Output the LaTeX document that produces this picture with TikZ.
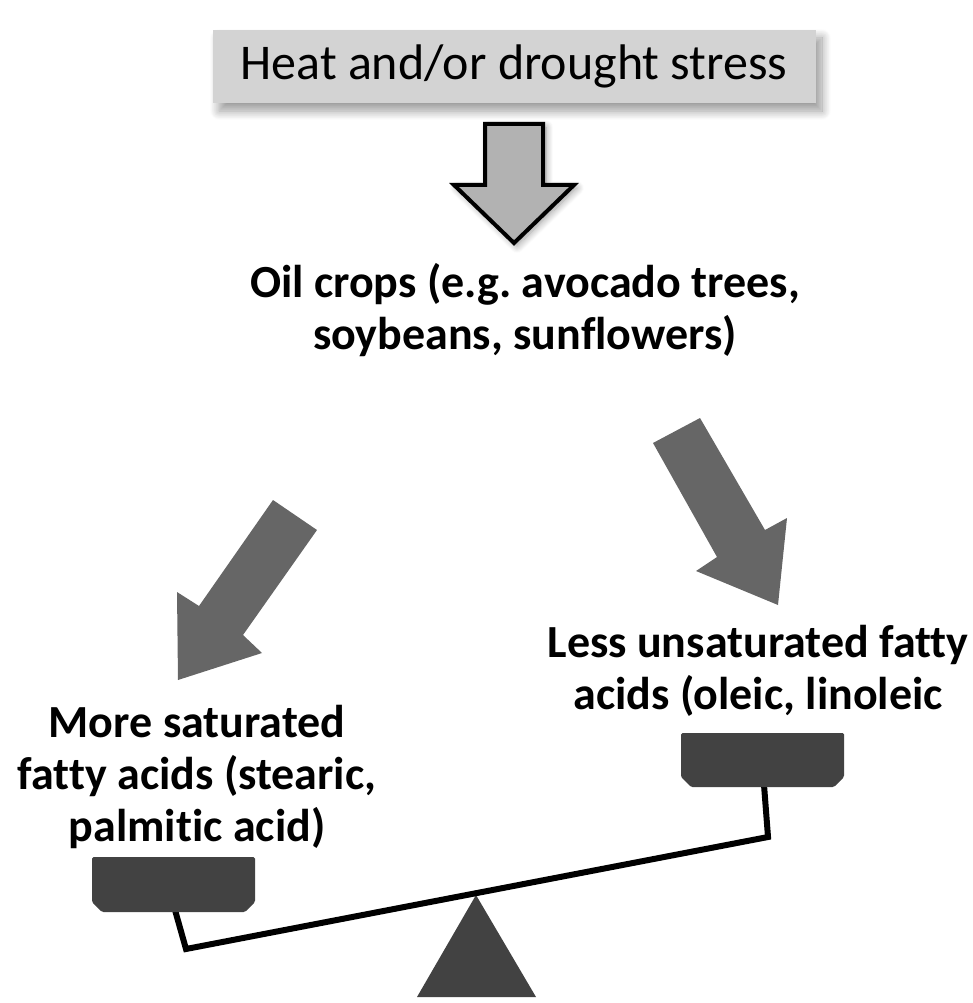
\documentclass[tikz,border=0pt]{standalone}
\usepackage{fontspec}
\setmainfont{Carlito}[Ligatures=NoCommon]
\usetikzlibrary{shadows.blur}
\definecolor{boxgray}{HTML}{D3D3D3}
\definecolor{arrowgray}{HTML}{B2B2B2}
\definecolor{darkarrow}{HTML}{666666}
\definecolor{scalegray}{HTML}{424242}
\tikzset{
  boldtext/.style={align=center, inner sep=0pt, font=\fontsize{46}{52}\selectfont\bfseries\frenchspacing},
  headtext/.style={inner sep=0pt, font=\fontsize{50}{56}\selectfont},
  blockarrow/.style={fill=darkarrow, draw=none},
  panshape/.style={fill=scalegray, draw=none, rounded corners=1.5pt},
  beam/.style={draw=black, line width=6pt, line join=miter},
}
\begin{document}
\begin{tikzpicture}[x=1pt, y=-1pt]
\useasboundingbox (0,0) rectangle (973,1003);
% top box
\fill[boxgray, blur shadow={shadow xshift=6pt, shadow yshift=-8pt, shadow blur steps=14, shadow blur radius=9pt}] (213,30) rectangle (816,103);
\node[headtext] (stress) at (514,66) {Heat and/or drought stress};
% hollow down arrow
\draw[fill=arrowgray, line width=4pt, line join=miter, blur shadow={shadow xshift=3pt, shadow yshift=-3pt, shadow blur steps=10, shadow blur radius=7pt}]
  (485,124) -- (543,124) -- (543,185) -- (574,185) -- (514,243) -- (454,185) -- (485,185) -- cycle;
% oil crops text
\node[boldtext] (crops) at (525,310) {Oil crops (e.g. avocado trees,\\soybeans, sunflowers)};
% left arrow
\fill[blockarrow] (273,500) -- (317,530) -- (243,635) -- (262,653) -- (178,680) -- (177,592) -- (199,606) -- cycle;
% right arrow
\fill[blockarrow] (653,443) -- (700,418) -- (765,530) -- (787,518) -- (778,605) -- (696,571) -- (717,557) -- cycle;
% texts
\node[boldtext] (sat) at (197,777) {More saturated\\fatty acids (stearic,\\palmitic acid)};
\node[boldtext] (unsat) at (758,671) {Less unsaturated fatty\\acids (oleic, linoleic};
% fulcrum
\fill[scalegray] (476,895) -- (536,997) -- (417,997) -- cycle;
% beam and hangers
\draw[beam] (175,910) -- (186,949) -- (768,837) -- (764,785);
% pans
\fill[panshape] (92,857) -- (255,857) -- (255,902) -- (245,912) -- (102,912) -- (92,902) -- cycle;
\fill[panshape] (681,733) -- (844,733) -- (844,777) -- (834,787) -- (691,787) -- (681,777) -- cycle;
\end{tikzpicture}
\end{document}
